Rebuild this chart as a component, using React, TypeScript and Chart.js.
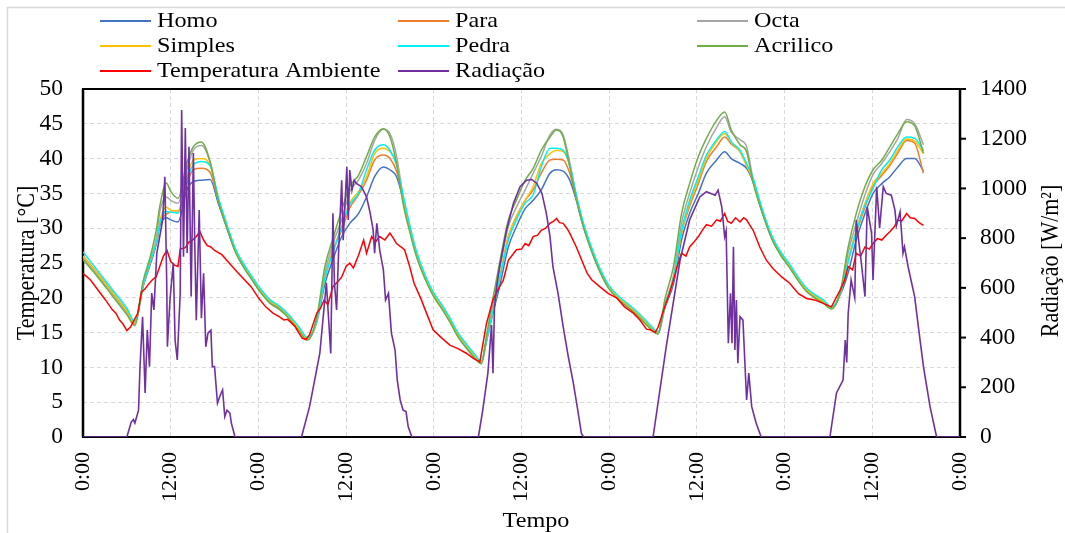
import React, { useEffect, useRef } from 'react';
import { Chart, registerables } from 'chart.js';

Chart.register(...registerables);

const FONT = '"Liberation Serif", "Times New Roman", serif';
const TEXT_STRETCH = 1.1;

const seriesNames = ['Homo', 'Para', 'Octa', 'Simples', 'Pedra', 'Acrilico', 'Temperatura Ambiente', 'Radiação'];
const seriesColors = ['#4472C4', '#ED7D31', '#A5A5A5', '#FFC000', '#00F0F0', '#70AD47', '#FF0000', '#7030A0'];

const xTickLabels = ['0:00', '12:00', '0:00', '12:00', '0:00', '12:00', '0:00', '12:00', '0:00', '12:00', '0:00'];
const axisTitles = { x: 'Tempo', y: 'Temperatura [°C]', y2: 'Radiação [W/m²]' };

// hours since the first 0:00 (enclosure temperatures)
const tHours = [
  0, 2, 4, 6, 7.1, 8.2, 9.2, 10.1, 10.5, 11.4, 12, 13, 14.2, 15.1, 16.2, 17.4, 18.5, 19.7, 20.8, 21.9, 23.1, 24.2, 25.6, 26.9, 28.3, 29.7, 30.7,
  32, 33.1, 34.2, 35.4, 36.5, 37.7, 38.8, 39.9, 41.1, 42, 42.9, 43.8, 44.7, 45.6, 46.8, 47.9, 49.1, 50.2, 51.3, 52.5, 53.6, 54.5,
  55.2, 56.1, 57, 58.2, 59.3, 60.5, 61.6, 62.7, 63.9, 64.8, 65.7, 66.6, 67.5, 68.4, 69.6, 70.7, 71.9, 73, 74.1, 75.3, 76.2, 77.6, 78.7,
  79.6, 80.8, 81.9, 83, 84.2, 85.3, 86.7, 87.8, 88.7, 89.9, 90.8, 91.7, 92.6, 93.5, 94.4, 95.6, 96.7, 97.9, 99, 100.1, 101.3, 102.4,
  103.6, 104.7, 105.8, 107, 108.1, 109.3, 110.4, 111.5, 112.7, 113.8, 115,
];

const homo = [
  26.0, 23.5, 20.8, 18.1, 16.4, 21.5, 24.8, 28.0, 30.3, 31.5, 31.2, 30.9, 35.5, 36.7, 36.9, 37.0, 33.6, 30.0, 26.8, 24.6, 22.7, 21.0, 19.3, 18.4, 17.0, 15.2, 14.0,
  16.6, 22.0, 25.5, 28.8, 30.7, 32.1, 34.5, 37.4, 38.8, 38.4, 37.4, 34.2, 30.0, 26.3, 22.9, 20.5, 18.6, 16.7, 14.6, 12.9, 11.5, 10.6,
  13.7, 17.8, 21.6, 27.3, 30.2, 32.8, 34.0, 35.5, 37.9, 38.4, 38.2, 36.9, 34.0, 30.5, 26.8, 23.9, 21.5, 20.1, 19.1, 18.1, 17.2, 15.7, 14.9,
  18.5, 22.0, 28.3, 32.1, 35.0, 37.9, 39.8, 41.0, 40.0, 39.3, 38.6, 36.6, 33.4, 30.6, 28.2, 26.0, 24.4, 22.5, 21.0, 20.1, 19.3, 18.5,
  20.4, 23.6, 28.3, 32.1, 35.0, 36.4, 37.4, 38.8, 40.0, 40.0, 38.2,
];

const para = [
  25.9, 23.4, 20.7, 18.0, 16.3, 21.8, 25.1, 28.3, 30.7, 32.0, 32.3, 32.3, 36.4, 38.4, 38.6, 38.0, 34.0, 30.1, 26.9, 24.7, 22.8, 21.1, 19.4, 18.5, 17.1, 15.2, 14.0,
  16.8, 22.8, 26.8, 29.7, 32.9, 34.8, 36.9, 39.8, 40.5, 40.0, 38.2, 34.3, 30.1, 26.4, 23.0, 20.6, 18.7, 16.8, 14.7, 13.0, 11.6, 10.7,
  13.9, 18.2, 22.6, 28.8, 31.7, 34.0, 35.5, 37.9, 39.8, 39.9, 39.8, 37.9, 34.3, 30.7, 26.9, 24.0, 21.6, 20.2, 19.2, 18.2, 17.3, 15.8, 15.0,
  18.7, 22.6, 29.3, 33.1, 36.4, 39.6, 41.7, 43.1, 42.1, 41.0, 39.0, 36.8, 33.6, 30.7, 28.3, 26.1, 24.5, 22.6, 21.1, 20.2, 19.4, 18.5,
  20.6, 25.4, 29.3, 33.0, 36.0, 37.6, 39.0, 40.8, 42.6, 42.2, 37.9,
];

const octa = [
  25.8, 23.3, 20.6, 17.9, 16.2, 21.6, 25.3, 29.0, 32.3, 34.5, 34.0, 33.6, 38.4, 41.2, 41.9, 39.5, 34.2, 30.2, 26.9, 24.7, 22.8, 21.1, 19.4, 18.6, 17.1, 15.2, 14.0,
  16.9, 23.5, 27.8, 31.2, 35.3, 36.9, 39.3, 42.6, 44.2, 43.6, 40.4, 34.5, 30.1, 26.4, 23.0, 20.6, 18.7, 16.8, 14.7, 13.0, 11.6, 10.7,
  14.0, 19.0, 24.0, 30.2, 33.0, 35.5, 37.9, 40.3, 43.4, 44.2, 43.4, 39.5, 34.5, 30.7, 26.9, 24.0, 21.6, 20.2, 19.2, 18.2, 17.3, 15.8, 14.9,
  18.9, 23.2, 30.7, 35.0, 38.8, 41.7, 44.5, 46.0, 43.8, 42.7, 41.7, 37.0, 33.6, 30.7, 28.3, 26.1, 24.5, 22.6, 21.1, 20.2, 19.4, 18.5,
  20.6, 26.5, 30.7, 34.8, 37.7, 39.3, 41.0, 42.9, 45.6, 45.0, 42.0,
];

const simples = [
  26.0, 23.5, 20.8, 18.1, 16.4, 21.8, 25.2, 28.5, 31.0, 33.0, 32.6, 32.5, 37.4, 39.8, 40.0, 39.0, 34.3, 30.3, 27.0, 24.8, 22.9, 21.2, 19.5, 18.7, 17.2, 15.3, 14.1,
  16.8, 22.8, 26.8, 30.2, 33.6, 35.3, 37.4, 40.7, 41.5, 41.0, 39.3, 34.5, 30.2, 26.5, 23.1, 20.7, 18.8, 16.9, 14.8, 13.1, 11.7, 10.8,
  13.9, 18.3, 22.8, 28.8, 31.7, 34.0, 36.0, 39.3, 40.7, 41.2, 41.0, 39.0, 34.5, 30.8, 27.0, 24.1, 21.7, 20.3, 19.3, 18.3, 17.4, 15.9, 15.0,
  18.8, 22.7, 29.3, 33.6, 36.9, 40.0, 42.5, 43.6, 42.3, 41.0, 39.0, 36.9, 33.7, 30.8, 28.4, 26.2, 24.6, 22.7, 21.2, 20.3, 19.5, 18.6,
  20.6, 25.4, 29.7, 33.6, 36.4, 37.9, 39.3, 41.2, 42.8, 42.5, 40.7,
];

const pedra = [
  26.6, 23.9, 21.2, 18.5, 16.6, 21.8, 25.2, 28.3, 30.7, 32.4, 32.3, 32.2, 36.9, 39.1, 39.6, 39.0, 34.5, 30.5, 27.2, 25.0, 23.1, 21.4, 19.7, 18.8, 17.4, 15.6, 14.3,
  16.8, 22.8, 26.5, 30.2, 33.4, 35.0, 38.4, 41.2, 42.0, 41.2, 39.1, 34.8, 30.5, 26.8, 23.3, 20.9, 19.0, 17.1, 15.0, 13.3, 11.9, 10.9,
  13.9, 18.2, 22.6, 28.3, 31.2, 33.6, 34.8, 38.8, 41.5, 41.5, 41.2, 39.1, 34.8, 31.0, 27.2, 24.3, 21.9, 20.5, 19.5, 18.5, 17.6, 16.1, 15.1,
  18.8, 22.8, 29.6, 34.0, 37.4, 40.5, 42.7, 43.9, 42.4, 41.2, 39.3, 37.2, 33.9, 31.0, 28.6, 26.4, 24.8, 22.9, 21.4, 20.5, 19.7, 18.7,
  20.6, 25.2, 29.5, 33.3, 35.7, 38.4, 39.8, 41.7, 43.1, 42.9, 41.2,
];

const acrilico = [
  25.5, 23.0, 20.3, 17.6, 16.0, 22.3, 25.9, 30.2, 33.1, 36.5, 35.3, 34.3, 39.3, 41.7, 42.4, 39.5, 34.0, 30.0, 26.7, 24.5, 22.6, 20.9, 19.2, 18.3, 16.9, 15.0, 13.9,
  17.3, 24.5, 28.5, 32.6, 36.0, 37.6, 40.3, 43.1, 44.3, 43.1, 39.3, 33.5, 29.5, 26.0, 22.7, 20.3, 18.4, 16.5, 14.4, 12.7, 11.3, 10.5,
  14.5, 20.0, 25.0, 31.2, 34.0, 36.9, 38.6, 41.2, 43.1, 44.1, 43.1, 38.8, 34.2, 30.4, 26.6, 23.8, 21.4, 20.0, 19.0, 18.0, 17.1, 15.6, 14.8,
  19.7, 24.5, 32.1, 36.4, 40.3, 42.9, 45.5, 46.7, 44.1, 42.0, 41.0, 36.5, 33.3, 30.5, 28.1, 25.9, 24.3, 22.4, 20.9, 20.0, 19.2, 18.4,
  20.8, 27.3, 32.1, 36.0, 38.4, 39.8, 41.7, 43.6, 45.3, 44.7, 40.8,
];

const ambHours = [
  0, 1, 2, 3, 4, 4.5, 5, 5.5, 6, 6.5, 7, 7.5, 8, 8.5, 9, 9.5, 10, 10.5, 11, 11.5, 12, 12.5, 13, 13.3, 14, 14.5, 15, 15.5, 16, 16.5,
  17, 17.5, 18, 19, 20, 21, 22, 23, 24, 25, 26, 27, 27.5, 28, 29, 29.5, 30, 30.5,
  31, 32, 32.5, 33, 33.5, 34.2, 35, 35.4, 36, 36.5, 37, 37.7, 38.4, 38.8, 39.5, 40, 40.6, 41.3, 42, 42.5,
  42.9, 44, 44.7, 45.3, 46.3, 47, 47.9, 49.1, 50.2, 51.3, 52.5, 53.4, 54.3,
  55.2, 56.1, 57, 57.5, 58.2, 59.3, 60, 60.5, 61, 61.6, 62.2, 62.7, 63.3, 63.9, 64.4, 64.8, 65.2, 65.7, 66.2, 66.6,
  67.5, 68.4, 69, 69.6, 70.7, 71.9, 73, 74.1, 75.3, 76.2, 77.1, 77.6, 78.3, 78.7,
  79.6, 80.2, 80.8, 81.3, 81.9, 82.5, 83, 83.6, 84.2, 84.8, 85.3, 86, 86.7, 87.2, 87.8, 88.2, 88.7, 89.3, 89.9, 90.4,
  90.8, 91.2, 91.7, 92.6, 93.5, 94.4, 95.6, 96.7, 97.9, 99, 100.1, 101.3, 102.4,
  103.6, 104.2, 104.7, 105.3, 105.8, 106.4, 107, 107.6, 108.1, 108.7, 109.3, 109.9, 110.4, 111, 111.5, 112, 112.7, 113.2, 113.8, 114.4, 115,
];

const ambiente = [
  23.5, 22.6, 21.2, 19.8, 18.3, 17.8, 16.8, 16.2, 15.3, 15.8, 16.8, 17.8, 20.8, 21.3, 22.0, 22.6, 23.0, 24.5, 26.0, 26.8, 25.2, 24.7, 24.5, 27.0, 27.2, 28.0, 28.3, 28.8, 29.5, 28.3,
  27.5, 27.3, 26.8, 26.2, 25.0, 23.8, 22.7, 21.6, 20.0, 18.7, 17.8, 17.2, 16.8, 16.9, 15.9, 15.0, 14.2, 14.0,
  14.7, 17.8, 18.5, 19.7, 19.0, 21.6, 22.5, 23.0, 24.5, 25.0, 24.3, 26.1, 28.3, 26.4, 28.8, 28.0, 28.8, 28.3, 29.3, 28.5,
  27.8, 26.9, 24.5, 22.1, 19.7, 17.8, 15.4, 14.2, 13.2, 12.7, 12.0, 11.3, 10.8,
  16.3, 19.7, 21.6, 22.5, 25.4, 26.9, 27.0, 27.8, 27.5, 28.8, 29.0, 29.7, 30.0, 30.7, 31.0, 31.4, 30.8, 30.7, 30.0, 29.3,
  27.3, 25.0, 23.5, 22.6, 21.6, 20.6, 20.0, 18.7, 17.8, 16.8, 15.5, 15.4, 15.0, 15.8,
  18.7, 20.5, 22.6, 24.5, 26.4, 26.0, 27.3, 28.0, 28.8, 29.8, 30.5, 30.3, 31.2, 31.0, 32.1, 31.0, 30.7, 31.5, 30.9, 31.5,
  31.2, 30.5, 29.7, 27.3, 25.4, 24.2, 23.0, 22.1, 20.6, 19.9, 19.7, 19.2, 18.7,
  21.1, 22.5, 24.5, 24.0, 26.4, 26.0, 27.3, 27.0, 27.8, 28.5, 28.3, 29.0, 29.5, 30.2, 31.2, 31.0, 32.1, 31.5, 31.4, 30.8, 30.4,
];

const radHours = [
  0, 6, 6.6, 6.9, 7.1, 7.6, 7.8, 8.15, 8.5, 8.8, 9.1, 9.4, 9.7, 10.1, 10.5, 10.9, 11.2, 11.45, 11.55, 11.9, 12.35, 12.6, 12.9, 13.3,
  13.5, 13.75, 14.0, 14.25, 14.5, 14.8, 15.1, 15.3, 15.5, 15.9, 16.2, 16.5, 16.8, 17.1, 17.5, 17.7, 18.0, 18.4, 18.7, 19.1, 19.4, 19.7, 20.1, 20.3, 20.8,
  29.9, 31, 32.4, 33.3, 33.9, 34.2, 34.4, 34.7, 35.0, 35.4, 35.6, 36.1, 36.3, 36.5, 36.8, 37.1, 37.4, 38.1, 38.8, 39.3, 39.7, 39.9,
  40.2, 40.6, 41.1, 41.4, 41.8, 42.2, 42.7, 43.0, 43.4, 43.8, 44.2, 44.5, 45.0,
  54.1, 54.7, 55.4, 55.9, 56.1, 56.3, 56.6, 57.0, 57.96, 58.9, 59.8, 60.7, 61.4, 62.1, 62.8, 63.4, 63.9, 64.3, 65.0, 65.7, 66.4, 67.1, 67.7, 68.2, 68.5,
  78.0, 79.8, 81.7, 83.0, 84.4, 85.3, 86.5, 86.9, 87.4, 87.8, 88.0, 88.3, 88.6, 88.8, 89.0, 89.2, 89.4, 89.6, 89.9, 90.3, 90.8, 91.1, 91.5, 92.1, 92.8,
  102.2, 103.1, 104.0, 104.3, 104.5, 104.7, 105.1, 105.6, 105.8, 106.5, 107.0, 107.3, 107.9, 108.1, 108.6, 109.0, 109.5, 109.9, 110.6, 111.1,
  111.3, 111.8, 112.2, 112.4, 112.9, 113.8, 114.3, 115.0, 115.9, 116.8, 120,
];

const radiacao = [
  0, 0, 60, 70, 56, 108, 283, 484, 177, 430, 283, 579, 511, 740, 806, 873, 1047, 632, 363, 551, 700, 390, 310, 578,
  1315, 725, 1243, 740, 1168, 565, 1142, 765, 470, 913, 478, 659, 363, 418, 430, 283, 283, 136, 162, 189, 82, 108, 96, 56, 0,
  0, 122, 336, 620, 336, 900, 620, 511, 765, 1033, 792, 1087, 873, 1074, 993, 1033, 1020, 1007, 966, 900, 833, 739,
  860, 752, 672, 551, 578, 418, 350, 229, 149, 108, 102, 41, 0,
  0, 108, 257, 450, 257, 520, 605, 685, 833, 940, 1007, 1033, 1036, 1020, 980, 900, 806, 685, 578, 444, 323, 216, 108, 14, 0,
  0, 363, 712, 873, 966, 987, 973, 993, 926, 806, 830, 377, 578, 377, 765, 350, 551, 297, 484, 470, 149, 257, 122, 56, 0,
  0, 177, 229, 390, 300, 497, 632, 560, 873, 700, 565, 926, 820, 632, 1007, 840, 1007, 980, 973, 913,
  850, 906, 739, 765, 685, 564, 444, 283, 122, 0, 0,
];

const tempSeries = [homo, para, octa, simples, pedra, acrilico];

const legendCols = [100, 398, 697];
const legendRows = [21, 46, 71];

function stretchedText(ctx: CanvasRenderingContext2D, text: string, x: number, y: number, rot: number) {
  ctx.save();
  ctx.translate(x, y);
  ctx.scale(TEXT_STRETCH, 1);
  if (rot) ctx.rotate(rot);
  ctx.fillText(text, 0, 0);
  ctx.restore();
}

const decorPlugin = {
  id: 'decor',
  beforeDraw(chart: any) {
    const ctx = chart.ctx;
    ctx.save();
    ctx.fillStyle = '#ffffff';
    ctx.fillRect(0, 0, chart.width, chart.height);
    ctx.strokeStyle = '#D9D9D9';
    ctx.lineWidth = 1.5;
    ctx.strokeRect(7.5, 7.5, chart.width + 40, chart.height + 40);
    ctx.restore();
  },
  beforeDatasetsDraw(chart: any) {
    const ctx = chart.ctx;
    const { left, right, top, bottom } = chart.chartArea;
    ctx.save();
    ctx.strokeStyle = '#000';
    ctx.lineWidth = 2;
    ctx.strokeRect(left, top, right - left, bottom - top);
    ctx.lineWidth = 2.5;
    ctx.beginPath();
    ctx.moveTo(left, top);
    ctx.lineTo(left, bottom);
    ctx.moveTo(right, top);
    ctx.lineTo(right, bottom);
    ctx.stroke();
    const y2 = chart.scales.y2;
    ctx.lineWidth = 2;
    y2.ticks.forEach((t: any) => {
      const py = y2.getPixelForValue(t.value);
      ctx.beginPath();
      ctx.moveTo(right, py);
      ctx.lineTo(right + 6, py);
      ctx.stroke();
    });
    ctx.restore();
  },
  afterDraw(chart: any) {
    const ctx = chart.ctx;
    const { top, bottom } = chart.chartArea;
    ctx.save();
    ctx.fillStyle = '#000';
    ctx.font = `22px ${FONT}`;
    ctx.textBaseline = 'middle';
    // legend
    seriesNames.forEach((name, i) => {
      const x = legendCols[i % 3];
      const y = legendRows[Math.floor(i / 3)];
      ctx.strokeStyle = seriesColors[i];
      ctx.lineWidth = 2;
      ctx.beginPath();
      ctx.moveTo(x, y);
      ctx.lineTo(x + 51, y);
      ctx.stroke();
      ctx.textAlign = 'left';
      stretchedText(ctx, name, x + 57, y, 0);
    });
    // axis titles
    ctx.textAlign = 'center';
    stretchedText(ctx, axisTitles.x, 536, 521, 0);
    const cy = (top + bottom) / 2;
    stretchedText(ctx, axisTitles.y, 28, cy, -Math.PI / 2);
    stretchedText(ctx, axisTitles.y2, 1052, cy - 2, -Math.PI / 2);
    ctx.restore();
  },
};

export default function App() {
  const canvasRef = useRef<HTMLCanvasElement | null>(null);

  useEffect(() => {
    const canvas = canvasRef.current;
    if (!canvas) return;
    const tempDatasets = tempSeries.map((arr, i) => ({
      label: seriesNames[i],
      data: tHours.map((h, k) => ({ x: h, y: arr[k] })),
      borderColor: seriesColors[i],
      backgroundColor: seriesColors[i],
      borderWidth: 1.5,
      pointRadius: 0,
      cubicInterpolationMode: 'monotone',
      yAxisID: 'y',
      order: 7 - i,
    }));
    const chart = new Chart(canvas, {
      type: 'line',
      data: {
        datasets: [
          ...tempDatasets,
          {
            label: seriesNames[6],
            data: ambHours.map((h, k) => ({ x: h, y: ambiente[k] })),
            borderColor: seriesColors[6],
            backgroundColor: seriesColors[6],
            borderWidth: 1.5,
            pointRadius: 0,
            tension: 0,
            yAxisID: 'y',
            order: 1,
          },
          {
            label: seriesNames[7],
            data: radHours.map((h, k) => ({ x: h, y: radiacao[k] })),
            borderColor: seriesColors[7],
            backgroundColor: seriesColors[7],
            borderWidth: 1.6,
            pointRadius: 0,
            tension: 0,
            yAxisID: 'y2',
            order: 0,
          },
        ],
      },
      options: {
        animation: false,
        responsive: false,
        events: [],
        layout: { padding: { top: 89, left: 0, right: 0, bottom: 0 } },
        plugins: { legend: { display: false }, tooltip: { enabled: false } },
        scales: {
          x: {
            type: 'linear',
            min: 0,
            max: 120,
            afterFit: (s: any) => { s.height = 96; },
            grid: { color: '#D9D9D9', lineWidth: 1, drawTicks: false },
            border: { display: false, dash: [4, 3] },
            ticks: {
              stepSize: 12,
              autoSkip: false,
              minRotation: 90,
              maxRotation: 90,
              padding: 15,
              color: '#000',
              font: { family: FONT, size: 22 },
              callback: (v: any) => xTickLabels[Math.round(Number(v) / 12)] ?? '',
            },
          },
          y: {
            type: 'linear',
            position: 'left',
            min: 0,
            max: 50,
            afterFit: (s: any) => { s.width = 83; },
            grid: { color: '#D9D9D9', lineWidth: 1, drawTicks: false },
            border: { display: false, dash: [4, 3] },
            ticks: {
              stepSize: 5,
              padding: 20,
              color: '#000',
              font: { family: FONT, size: 23.5 },
              callback: (v: any) => String(v),
            },
          },
          y2: {
            type: 'linear',
            position: 'right',
            min: 0,
            max: 1400,
            afterFit: (s: any) => { s.width = 105; },
            grid: { display: false, drawTicks: false },
            border: { display: false },
            ticks: {
              stepSize: 200,
              padding: 20,
              color: '#000',
              font: { family: FONT, size: 23.5 },
              callback: (v: any) => String(v),
            },
          },
        },
      },
      plugins: [decorPlugin],
    } as any);
    return () => chart.destroy();
  }, []);

  return (
    <div style={{ position: 'absolute', left: 0, top: 0, width: 1065, height: 533, background: '#fff' }}>
      <canvas ref={canvasRef} width={1065} height={533} style={{ display: 'block' }} />
    </div>
  );
}
